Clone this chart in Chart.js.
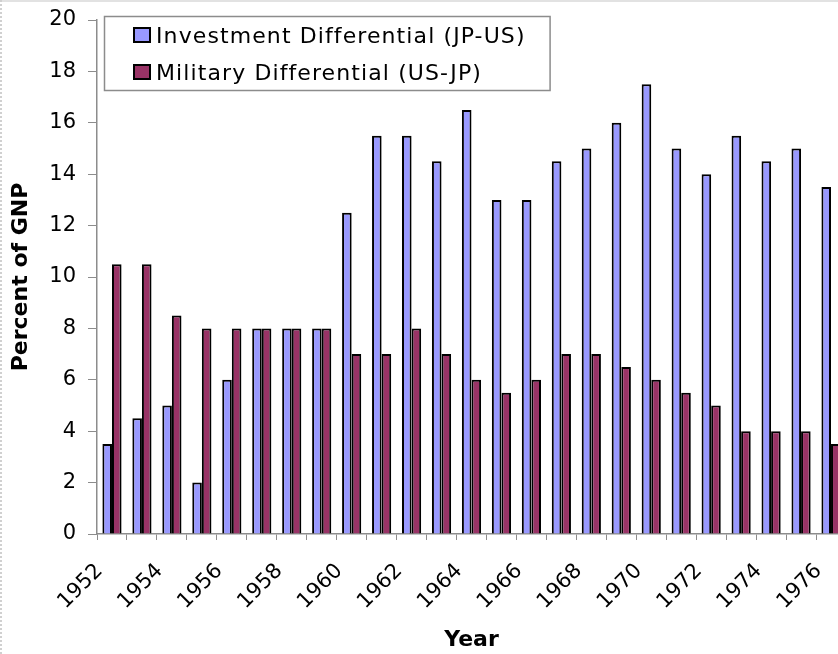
<!DOCTYPE html>
<html>
<head>
<meta charset="utf-8">
<script src="https://cdn.jsdelivr.net/npm/chart.js@4.4.0/dist/chart.umd.min.js"></script>
<style>
  html, body { margin: 0; padding: 0; background: #fff; overflow: hidden; }
  #wrap { position: relative; width: 838px; height: 654px; overflow: hidden; }
  #wrap canvas { position: absolute; left: 0; top: 0; }
  #edgeTop { position: absolute; left: 0; top: 0; width: 838px; height: 2px; background: #e2e2e2; }
  #edgeLeft { position: absolute; left: 0; top: 0; width: 0; height: 654px; border-left: 2px dotted #d0d0d0; }
  .yr { position: absolute; left: 0; top: 0; white-space: nowrap; color: #000;
        font: 21px/21px "DejaVu Sans", Verdana, sans-serif; transform-origin: 0 0; }
</style>
</head>
<body>
<div id="wrap">
  <canvas id="chart" width="870" height="654" style="width:870px;height:654px"></canvas>
  <div id="edgeTop"></div>
  <div id="edgeLeft"></div>
</div>
<script>
const years = ['1952', '1953', '1954', '1955', '1956', '1957', '1958', '1959', '1960', '1961',
  '1962', '1963', '1964', '1965', '1966', '1967', '1968', '1969', '1970', '1971',
  '1972', '1973', '1974', '1975', '1976'];
const investment = [3.5, 4.5, 5, 2, 6, 8, 8, 8, 12.5, 15.5, 15.5, 14.5, 16.5, 13, 13,
  14.5, 15, 16, 17.5, 15, 14, 15.5, 14.5, 15, 13.5];
const military = [10.5, 10.5, 8.5, 8, 8, 8, 8, 8, 7, 7, 8, 7, 6, 5.5, 6,
  7, 7, 6.5, 6, 5.5, 5, 4, 4, 4, 3.5];
const seriesNames = ['Investment Differential (JP-US)', 'Military Differential (US-JP)'];

(function () {
  const font = 'DejaVu Sans, Verdana, sans-serif';
  const axisGray = '#8c8c8c';

  // framed legend drawn inside the plot, top-left
  const boxLegend = {
    id: 'boxLegend',
    afterDraw(chart) {
      const ctx = chart.ctx;
      const area = chart.chartArea;
      ctx.save();
      ctx.font = '22px ' + font;
      ctx.letterSpacing = '1.1px';
      let textW = 0;
      chart.data.datasets.forEach(ds => { textW = Math.max(textW, ctx.measureText(ds.label).width); });
      const left = area.left + 7, top = area.top - 4;
      const textX = left + 52;
      const w = textX - left + textW + 24, h = 74;
      ctx.fillStyle = '#fff';
      ctx.fillRect(left, top, w, h);
      ctx.strokeStyle = '#8c8c8c';
      ctx.lineWidth = 1.5;
      ctx.strokeRect(left + 0.5, top + 0.5, w, h);
      chart.data.datasets.forEach((ds, i) => {
        const y0 = top + 11 + i * 37;
        ctx.fillStyle = ds.backgroundColor;
        ctx.fillRect(left + 29, y0, 18, 16);
        ctx.strokeStyle = '#000';
        ctx.lineWidth = 2;
        ctx.strokeRect(left + 30, y0 + 1, 16, 14);
        ctx.fillStyle = '#000';
        ctx.textBaseline = 'alphabetic';
        ctx.fillText(ds.label, textX, y0 + 16);
      });
      ctx.letterSpacing = '0px';
      ctx.restore();
    }
  };

  const chart = new Chart(document.getElementById('chart'), {
    type: 'bar',
    data: {
      labels: years,
      datasets: [
        { label: seriesNames[0], data: investment, backgroundColor: '#9999ff', borderColor: '#000', borderWidth: 2 },
        { label: seriesNames[1], data: military, backgroundColor: '#993366', borderColor: '#000', borderWidth: 2 },
      ],
    },
    options: {
      responsive: false,
      animation: false,
      layout: { padding: { left: 0, right: 24, top: 20, bottom: 0 } },
      datasets: { bar: { barPercentage: 1, categoryPercentage: 0.64 } },
      plugins: { legend: { display: false }, tooltip: { enabled: false } },
      scales: {
        x: {
          grid: { offset: true, drawOnChartArea: false, tickLength: 6, color: axisGray },
          border: { color: axisGray, width: 1.5 },
          ticks: { display: false, autoSkip: false },
          title: { display: true, text: 'Year', color: '#000', font: { family: font, size: 22, weight: 'bold' }, padding: { top: 0, bottom: 1 } },
          afterFit: s => { s.height = 120; },
        },
        y: {
          min: 0, max: 20,
          grid: { drawOnChartArea: false, tickLength: 9, color: axisGray },
          border: { color: axisGray, width: 1.5 },
          ticks: { stepSize: 2, padding: 12, color: '#000', font: { family: font, size: 21, lineHeight: 0.6 } },
          title: { display: true, text: 'Percent of GNP', color: '#000', font: { family: font, size: 22, weight: 'bold' }, padding: { top: 8, bottom: 0 } },
          afterFit: s => { s.width = 97; },
        },
      },
    },
    plugins: [boxLegend],
  });

  // slanted year labels, every second category, anchored on the x scale ticks
  const xs = chart.scales.x;
  const wrap = document.getElementById('wrap');
  years.forEach((yr, i) => {
    if (i % 2) return;
    const el = document.createElement('div');
    el.className = 'yr';
    el.textContent = yr;
    const ax = xs.getPixelForTick(i) - 8, ay = xs.top + 38;
    el.style.transform = 'translate(' + ax + 'px,' + ay + 'px) rotate(-45deg) translate(-100%,-17.8px)';
    wrap.appendChild(el);
  });
})();
</script>
</body>
</html>
